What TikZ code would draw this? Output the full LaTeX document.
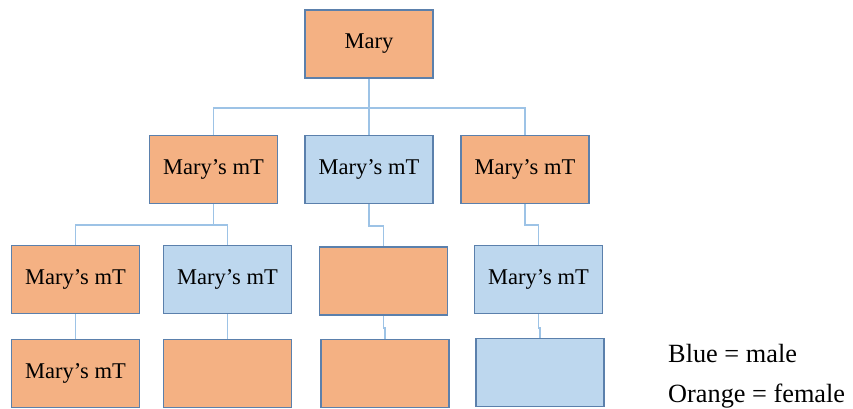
\documentclass[tikz,border=0pt]{standalone}
\usepackage{fontspec}
\setmainfont{Liberation Serif}
\definecolor{femalefill}{HTML}{F4B183}
\definecolor{malefill}{HTML}{BDD7EE}
\definecolor{boxedge}{HTML}{5B80AC}
\definecolor{linkline}{HTML}{9DC3E6}
\begin{document}
\begin{tikzpicture}[x=1pt,y=-1pt,
  person/.style={draw=boxedge, line width=1.5pt, minimum width=128pt, minimum height=68pt,
    inner sep=0pt, font=\fontsize{22.5}{26}\selectfont},
  female/.style={person, fill=femalefill},
  male/.style={person, fill=malefill},
  link/.style={draw=linkline, line width=1.3pt},
  legend/.style={anchor=base west, inner sep=0pt, font=\fontsize{26.3}{30}\selectfont}]
\useasboundingbox (0,0) rectangle (853,409);

% generation 1
\node[female] (mary) at (369,44) {Mary};

% generation 2
\node[female] (a1) at (213.5,169.5) {Mary’s mT};
\node[male]   (a2) at (369,169.5)   {Mary’s mT};
\node[female] (a3) at (525,169.5)   {Mary’s mT};

% generation 3
\node[female] (b1) at (75.5,279.5)  {Mary’s mT};
\node[male]   (b2) at (227.5,279.5) {Mary’s mT};
\node[female] (b3) at (383.5,281)   {};
\node[male]   (b4) at (538.5,279.5) {Mary’s mT};

% generation 4
\node[female] (c1) at (75.5,373.5) {Mary’s mT};
\node[female] (c2) at (227.5,373.5) {};
\node[female] (c3) at (385,373.5)  {};
\node[male]   (c4) at (540,372.5)  {};

% connectors: Mary to her children
\coordinate (busA) at (369,108);
\draw[link] (mary.south) -- (busA);
\draw[link] (a1.north) |- (busA) -| (a3.north);
\draw[link] (busA) -- (a2.north);

% connectors: generation 2 to generation 3
\coordinate (busB) at (213.5,225);
\draw[link] (a1.south) -- (busB);
\draw[link] (b1.north) |- (busB) -| (b2.north);
\draw[link] (a2.south) -- (a2.south |- 0,226) -| (b3.north);
\draw[link] (a3.south) -- (a3.south |- 0,225) -| (b4.north);

% connectors: generation 3 to generation 4
\draw[link] (b1.south) -- (c1.north);
\draw[link] (b2.south) -- (c2.north);
\draw[link] (b3.south) -- (b3.south |- 0,328) -| (c3.north);
\draw[link] (b4.south) -- (b4.south |- 0,328) -| (c4.north);

% legend
\node[legend] (key1) at (668,362) {Blue = male};
\node[legend] (key2) at (668,402) {Orange = female};
\end{tikzpicture}
\end{document}
